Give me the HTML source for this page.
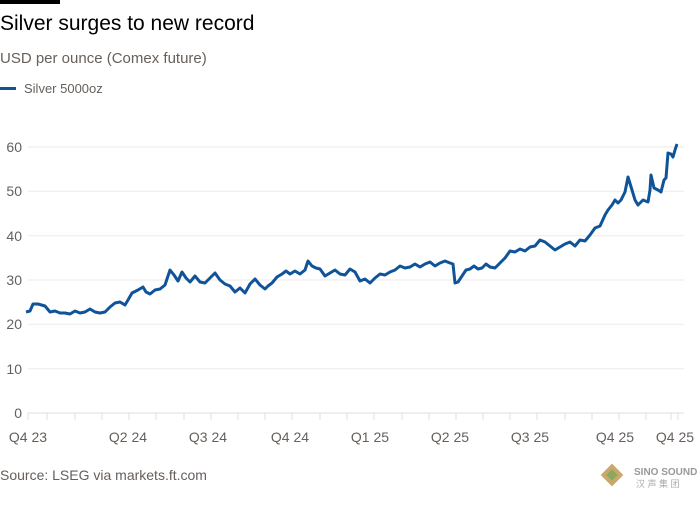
<!DOCTYPE html>
<html><head><meta charset="utf-8"><style>
body{margin:0;background:#fff;width:700px;height:500px;overflow:hidden;font-family:"Liberation Sans",sans-serif;}
</style></head><body>
<svg width="700" height="500" xmlns="http://www.w3.org/2000/svg" font-family="Liberation Sans, sans-serif">
<rect x="0" y="0" width="60" height="4" fill="#000"/>
<text x="0" y="30" font-size="21" fill="#000">Silver surges to new record</text>
<text x="0" y="63" font-size="15" fill="#66605c">USD per ounce (Comex future)</text>
<rect x="0" y="87" width="16" height="3" fill="#0f5499"/>
<text x="24" y="93" font-size="13" fill="#66605c">Silver 5000oz</text>
<g stroke="#eeeae6" stroke-width="1">
<line x1="28" x2="684" y1="147" y2="147"/><line x1="28" x2="684" y1="191.3" y2="191.3"/>
<line x1="28" x2="684" y1="235.7" y2="235.7"/><line x1="28" x2="684" y1="280" y2="280"/>
<line x1="28" x2="684" y1="324.3" y2="324.3"/><line x1="28" x2="684" y1="368.7" y2="368.7"/>
</g>
<line x1="28" x2="684" y1="413" y2="413" stroke="#e3dfdb" stroke-width="1"/>
<g font-size="14" fill="#66605c" text-anchor="end">
<text x="22" y="152">60</text><text x="22" y="196">50</text><text x="22" y="241">40</text>
<text x="22" y="285">30</text><text x="22" y="329">20</text><text x="22" y="374">10</text><text x="22" y="418">0</text>
</g>
<g stroke="#e3dfdb">
<line x1="28" x2="28" y1="413" y2="420"/><line x1="47" x2="47" y1="413" y2="420"/><line x1="75" x2="75" y1="413" y2="420"/><line x1="102" x2="102" y1="413" y2="420"/><line x1="129" x2="129" y1="413" y2="420"/><line x1="156" x2="156" y1="413" y2="420"/><line x1="184" x2="184" y1="413" y2="420"/><line x1="211" x2="211" y1="413" y2="420"/><line x1="238" x2="238" y1="413" y2="420"/><line x1="265" x2="265" y1="413" y2="420"/><line x1="292" x2="292" y1="413" y2="420"/><line x1="320" x2="320" y1="413" y2="420"/><line x1="347" x2="347" y1="413" y2="420"/><line x1="374" x2="374" y1="413" y2="420"/><line x1="402" x2="402" y1="413" y2="420"/><line x1="429" x2="429" y1="413" y2="420"/><line x1="456" x2="456" y1="413" y2="420"/><line x1="483" x2="483" y1="413" y2="420"/><line x1="510" x2="510" y1="413" y2="420"/><line x1="537" x2="537" y1="413" y2="420"/><line x1="565" x2="565" y1="413" y2="420"/><line x1="592" x2="592" y1="413" y2="420"/><line x1="619" x2="619" y1="413" y2="420"/><line x1="646" x2="646" y1="413" y2="420"/><line x1="671" x2="671" y1="413" y2="420"/><line x1="678" x2="678" y1="413" y2="420"/>
</g>
<g font-size="14" fill="#66605c" text-anchor="middle">
<text x="28" y="442">Q4 23</text><text x="128" y="442">Q2 24</text><text x="208" y="442">Q3 24</text>
<text x="290" y="442">Q4 24</text><text x="370" y="442">Q1 25</text><text x="450" y="442">Q2 25</text>
<text x="530" y="442">Q3 25</text><text x="615" y="442">Q4 25</text><text x="675" y="442">Q4 25</text>
</g>
<polyline fill="none" stroke="#0f5499" stroke-width="3" stroke-linejoin="round" points="26,312 30,311 33,304 38,304 45,306 50,312 55,311 60,313 65,313 70,314 75,311 80,313 85,312 90,309 95,312 100,313 105,312 110,307 115,303 120,302 125,305 128,300 132,293 138,290 143,287 146,292 150,294 155,290 160,289 165,285 170,270 174,275 178,281 182,272 186,278 190,282 195,276 200,282 205,283 210,278 215,273 220,280 225,284 230,286 235,292 240,288 245,293 250,284 255,279 260,285 265,289 268,286 272,283 277,277 282,274 286,271 290,274 295,271 300,274 305,270 308,261 312,266 316,268 320,269 325,276 330,273 335,270 340,274 345,275 350,269 355,272 360,281 365,279 370,283 375,278 380,274 385,275 390,272 395,270 400,266 405,268 410,267 415,264 420,267 425,264 430,262 435,266 440,263 445,261 450,263 453,264 455,283 458,282 462,276 466,270 470,269 474,266 478,269 482,268 486,264 490,267 495,268 500,263 505,258 510,251 515,252 520,249 525,251 530,247 535,246 540,240 545,242 550,246 555,250 560,247 565,244 570,242 575,246 580,240 585,241 590,235 595,228 600,226 605,215 608,210 612,205 615,200 618,203 621,200 625,192 628,177 632,190 635,200 638,205 643,200 648,202 650,190 651,175 654,188 658,190 661,192 664,180 666,178 668,153 671,154 673,157 675,150 677,144"/>
<text x="0" y="480" font-size="14" fill="#66605c">Source: LSEG via markets.ft.com</text>
<g><rect x="604" y="467" width="16" height="16" transform="rotate(45 612 475)" fill="#c9a86a"/><rect x="608" y="471" width="8" height="8" transform="rotate(45 612 475)" fill="#8aa860"/><text x="634" y="475" font-size="10" font-weight="bold" fill="#999">SINO SOUND</text><text x="636" y="487" font-size="9" fill="#aaa">汉 声 集 团</text></g>
</svg>
</body></html>
